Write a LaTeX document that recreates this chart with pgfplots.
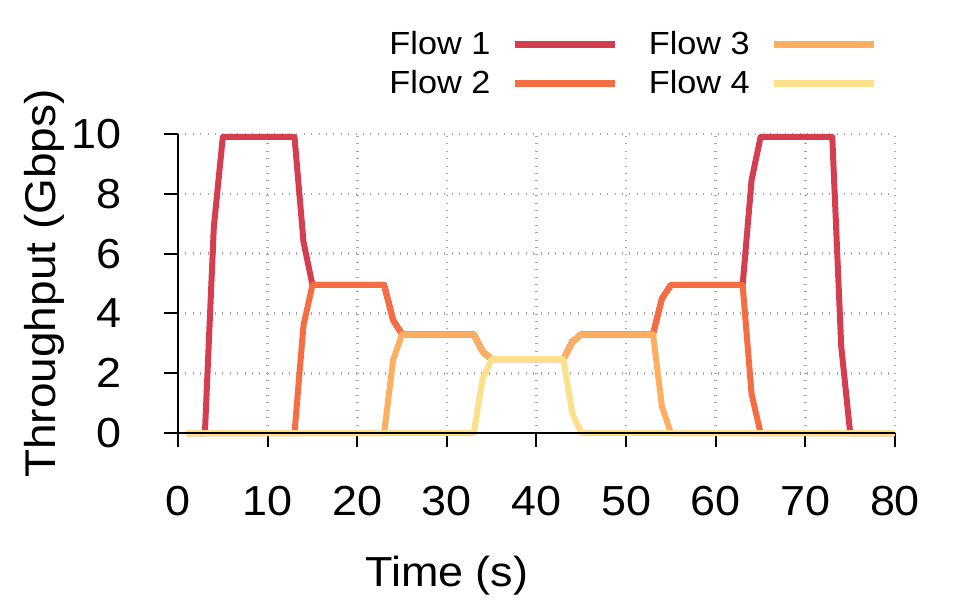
\documentclass[border=0pt]{standalone}
\usepackage{fontspec}
\setmainfont{Liberation Sans}[FakeStretch=1.07]
\usepackage{pgfplots}
\usepackage{pgfplotstable}
\pgfplotsset{compat=1.18}

\definecolor{flowA}{HTML}{D53E4F}
\definecolor{flowB}{HTML}{F46D43}
\definecolor{flowC}{HTML}{FDAE61}
\definecolor{flowD}{HTML}{FEE08B}

% time (s), throughput of each flow (Gbps)
\pgfplotstableread{
t  f1   f2   f3   f4
1  0    0    0    0
2  0    0    0    0
3  0    0    0    0
4  6.9  0    0    0
5  9.9  0    0    0
6  9.9  0    0    0
7  9.9  0    0    0
8  9.9  0    0    0
9  9.9  0    0    0
10 9.9  0    0    0
11 9.9  0    0    0
12 9.9  0    0    0
13 9.9  0    0    0
14 6.4  3.6  0    0
15 4.95 4.95 0    0
16 4.95 4.95 0    0
17 4.95 4.95 0    0
18 4.95 4.95 0    0
19 4.95 4.95 0    0
20 4.95 4.95 0    0
21 4.95 4.95 0    0
22 4.95 4.95 0    0
23 4.95 4.95 0    0
24 3.78 3.78 2.44 0
25 3.3  3.3  3.3  0
26 3.3  3.3  3.3  0
27 3.3  3.3  3.3  0
28 3.3  3.3  3.3  0
29 3.3  3.3  3.3  0
30 3.3  3.3  3.3  0
31 3.3  3.3  3.3  0
32 3.3  3.3  3.3  0
33 3.3  3.3  3.3  0
34 2.72 2.72 2.72 1.83
35 2.47 2.47 2.47 2.47
36 2.47 2.47 2.47 2.47
37 2.47 2.47 2.47 2.47
38 2.47 2.47 2.47 2.47
39 2.47 2.47 2.47 2.47
40 2.47 2.47 2.47 2.47
41 2.47 2.47 2.47 2.47
42 2.47 2.47 2.47 2.47
43 2.47 2.47 2.47 2.47
44 3.05 3.05 3.05 0.66
45 3.3  3.3  3.3  0
46 3.3  3.3  3.3  0
47 3.3  3.3  3.3  0
48 3.3  3.3  3.3  0
49 3.3  3.3  3.3  0
50 3.3  3.3  3.3  0
51 3.3  3.3  3.3  0
52 3.3  3.3  3.3  0
53 3.3  3.3  3.3  0
54 4.5  4.5  0.88 0
55 4.95 4.95 0    0
56 4.95 4.95 0    0
57 4.95 4.95 0    0
58 4.95 4.95 0    0
59 4.95 4.95 0    0
60 4.95 4.95 0    0
61 4.95 4.95 0    0
62 4.95 4.95 0    0
63 4.95 4.95 0    0
64 8.46 1.3  0    0
65 9.9  0    0    0
66 9.9  0    0    0
67 9.9  0    0    0
68 9.9  0    0    0
69 9.9  0    0    0
70 9.9  0    0    0
71 9.9  0    0    0
72 9.9  0    0    0
73 9.9  0    0    0
74 2.9  0    0    0
75 0    0    0    0
76 0    0    0    0
77 0    0    0    0
78 0    0    0    0
79 0    0    0    0
80 0    0    0    0
}\flows

\begin{document}
\begin{tikzpicture}
\useasboundingbox (-89pt,-86.5pt) rectangle (395.5pt,216.5pt);
\begin{axis}[
    scale only axis,
    width=358.5pt, height=149.5pt,
    xmin=0, xmax=80, ymin=0, ymax=10,
    xtick={0,10,...,80}, ytick={0,2,...,10},
    clip=false,
    axis x line*=bottom, axis y line*=left,
    axis line style={-, black, line width=1pt},
    tick align=outside, major tick length=7pt,
    tick style={black, line width=1pt},
    grid=major,
    grid style={black!35, line width=1.3pt, dash pattern=on 0.5pt off 3.2pt},
    /pgf/number format/assume math mode=true,
    ticklabel style={font=\fontsize{21}{21}\selectfont},
    xticklabel style={anchor=north, inner sep=0pt, yshift=-19.5pt},
    yticklabel style={anchor=east, inner sep=0pt, xshift=-21pt},
    xlabel={Time (s)},
    ylabel={Throughput (Gbps)},
    every axis x label/.style={at={(rel axis cs:0.375,-0.515)}, anchor=base, inner sep=0pt, font=\fontsize{21}{21}\selectfont},
    every axis y label/.style={at={(rel axis cs:-0.1715,0.5)}, rotate=90, anchor=base, inner sep=0pt, font=\fontsize{21.5}{21.5}\selectfont},
    legend plot pos=right, transpose legend, legend columns=2, legend cell align=right,
    legend style={draw=none, fill=none, at={(rel axis cs:0.976,1.344)}, anchor=north east,
        inner sep=0pt, font=\fontsize{16}{16}\selectfont, row sep=6.3pt,
        nodes={inner sep=0pt},
        /tikz/every odd column/.append style={column sep=10.5pt},
        /tikz/every even column/.append style={column sep=15.5pt}},
    legend image code/.code={\draw[#1, line width=3.3pt] (0pt,0pt) -- (50pt,0pt);},
    every axis plot/.append style={line width=3pt, line join=round},
]
\addplot[flowA] table[x=t, y=f1] {\flows};
\addlegendentry{Flow 1}
\addplot[flowB] table[x=t, y=f2] {\flows};
\addlegendentry{Flow 2}
\addplot[flowC] table[x=t, y=f3] {\flows};
\addlegendentry{Flow 3}
\addplot[flowD] table[x=t, y=f4] {\flows};
\addlegendentry{Flow 4}
\draw[black, line width=1pt] (axis cs:0,0) -- (axis cs:80,0);
\end{axis}
\end{tikzpicture}
\end{document}
